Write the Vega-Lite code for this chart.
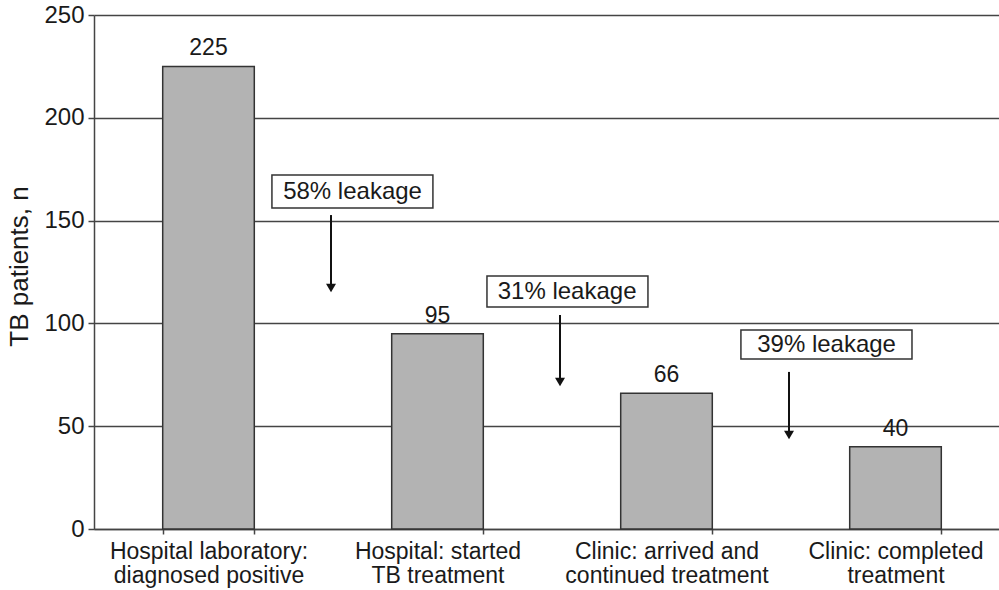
{
  "$schema": "https://vega.github.io/schema/vega-lite/v6.json",
  "width": 916,
  "height": 514,
  "autosize": "none",
  "padding": {"left": 94, "top": 15, "right": 0, "bottom": 61},
  "background": "white",
  "config": {
    "font": "Liberation Sans",
    "view": {"stroke": null}
  },
  "datasets": {
    "stages": [
      {"stage": "Hospital laboratory:|diagnosed positive", "patients": 225},
      {"stage": "Hospital: started|TB treatment", "patients": 95},
      {"stage": "Clinic: arrived and|continued treatment", "patients": 66},
      {"stage": "Clinic: completed|treatment", "patients": 40}
    ],
    "leaks": [
      {"note": "58% leakage", "bx0": 0.777, "bx1": 1.48, "by0": 156.1, "by1": 172.2, "tx": 1.129, "ty": 164, "ax": 1.035, "ay0": 152.7, "ay1": 117.2},
      {"note": "31% leakage", "bx0": 1.716, "bx1": 2.419, "by0": 108.0, "by1": 123.1, "tx": 2.066, "ty": 115.5, "ax": 2.035, "ay0": 104.1, "ay1": 71.5},
      {"note": "39% leakage", "bx0": 2.825, "bx1": 3.572, "by0": 82.7, "by1": 96.8, "tx": 3.199, "ty": 89.7, "ax": 3.035, "ay0": 76.4, "ay1": 45.7}
    ]
  },
  "resolve": {"scale": {"x": "independent"}},
  "layer": [
    {
      "data": {"name": "stages"},
      "mark": {"type": "bar", "fill": "#b3b3b3", "stroke": "#333333", "strokeWidth": 1.5},
      "encoding": {
        "x": {
          "field": "stage", "type": "nominal", "sort": null,
          "scale": {"paddingInner": 0.6, "paddingOuter": 0.3},
          "axis": {
            "title": null, "labelAngle": 0, "labelLimit": 0, "labelOverlap": false,
            "labelExpr": "split(datum.label, '|')",
            "labelFontSize": 23, "labelColor": "#1a1a1a", "labelPadding": 6,
            "labelLineHeight": 24,
            "tickBand": "extent", "tickColor": "#444444", "tickSize": 5, "tickWidth": 1.5,
            "domainColor": "#444444", "domainWidth": 1.5
          }
        },
        "y": {
          "field": "patients", "type": "quantitative",
          "scale": {"domain": [0, 250], "nice": false},
          "axis": {
            "title": "TB patients, n", "titleFontSize": 26, "titleFontWeight": "normal",
            "titleColor": "#1a1a1a", "titleX": -62, "titleY": 251, "titleAlign": "center", "titleBaseline": "bottom",
            "values": [0, 50, 100, 150, 200, 250],
            "labelFontSize": 24, "labelColor": "#1a1a1a", "labelPadding": 4,
            "tickSize": 6, "tickColor": "#444444", "tickWidth": 1.5,
            "domainColor": "#444444", "domainWidth": 1.5,
            "grid": true, "gridColor": "#444444", "gridWidth": 1.5
          }
        }
      }
    },
    {
      "data": {"name": "stages"},
      "mark": {"type": "text", "fontSize": 23, "color": "#1a1a1a", "dy": -18, "baseline": "middle"},
      "encoding": {
        "x": {"field": "stage", "type": "nominal", "sort": null, "scale": {"paddingInner": 0.6, "paddingOuter": 0.3}, "axis": null},
        "y": {"field": "patients", "type": "quantitative", "scale": {"domain": [0, 250], "nice": false}},
        "text": {"field": "patients", "type": "quantitative"}
      }
    },
    {
      "data": {"name": "leaks"},
      "mark": {"type": "rect", "fill": "white", "stroke": "#333333", "strokeWidth": 1.5},
      "encoding": {
        "x": {"field": "bx0", "type": "quantitative", "scale": {"domain": [0, 4], "nice": false, "zero": false}, "axis": null},
        "x2": {"field": "bx1"},
        "y": {"field": "by0", "type": "quantitative", "scale": {"domain": [0, 250], "nice": false}},
        "y2": {"field": "by1"}
      }
    },
    {
      "data": {"name": "leaks"},
      "mark": {"type": "text", "fontSize": 24, "color": "#1a1a1a", "baseline": "middle", "align": "center"},
      "encoding": {
        "x": {"field": "tx", "type": "quantitative", "scale": {"domain": [0, 4], "nice": false, "zero": false}, "axis": null},
        "y": {"field": "ty", "type": "quantitative", "scale": {"domain": [0, 250], "nice": false}},
        "text": {"field": "note"}
      }
    },
    {
      "data": {"name": "leaks"},
      "mark": {"type": "rule", "color": "#111111", "strokeWidth": 2},
      "encoding": {
        "x": {"field": "ax", "type": "quantitative", "scale": {"domain": [0, 4], "nice": false, "zero": false}, "axis": null},
        "y": {"field": "ay0", "type": "quantitative", "scale": {"domain": [0, 250], "nice": false}},
        "y2": {"field": "ay1"}
      }
    },
    {
      "data": {"name": "leaks"},
      "mark": {"type": "point", "shape": "triangle-down", "filled": true, "color": "#111111", "size": 100, "opacity": 1},
      "encoding": {
        "x": {"field": "ax", "type": "quantitative", "scale": {"domain": [0, 4], "nice": false, "zero": false}, "axis": null},
        "y": {"field": "ay1", "type": "quantitative", "scale": {"domain": [0, 250], "nice": false}}
      }
    }
  ]
}
